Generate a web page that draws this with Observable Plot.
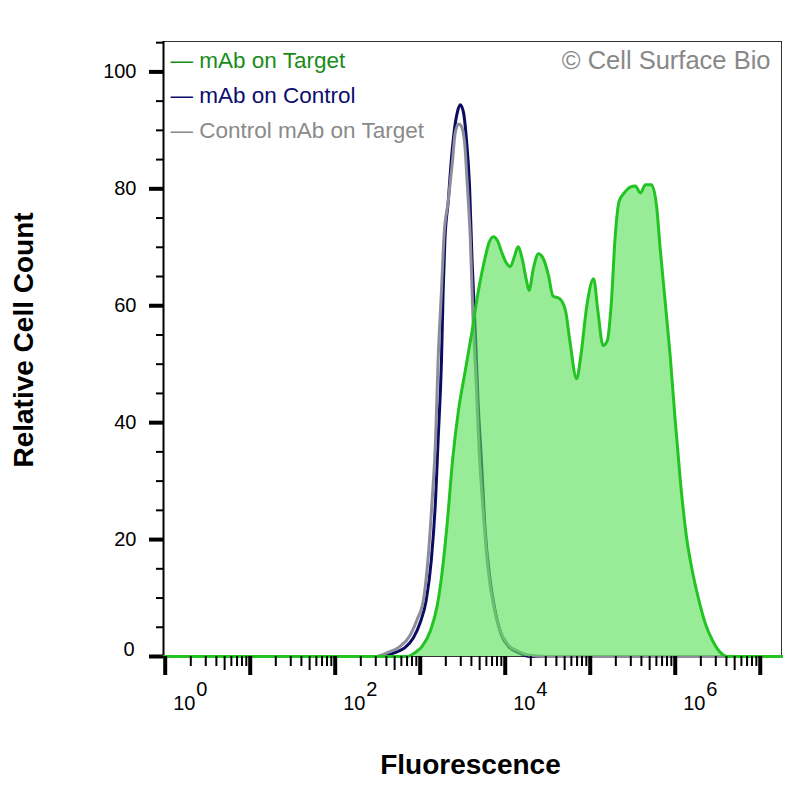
<!DOCTYPE html>
<html>
<head>
<meta charset="utf-8">
<script src="https://cdn.jsdelivr.net/npm/d3@7"></script>
<script src="https://cdn.jsdelivr.net/npm/@observablehq/plot@0.6"></script>
<style>
  html, body { margin: 0; padding: 0; background: #fff; }
</style>
</head>
<body>
<div id="chart"></div>
<script>
// ---- Data (log10 fluorescence, relative cell count) ----
const targetLog = [-0.02, 2.85, 2.94, 3.02, 3.12, 3.20, 3.26, 3.32, 3.38, 3.45, 3.53, 3.61, 3.68, 3.76, 3.81, 3.86, 3.91, 3.96, 4.01, 4.06, 4.11, 4.15, 4.20, 4.25, 4.28, 4.33, 4.39, 4.45, 4.51, 4.56, 4.64, 4.71, 4.76, 4.84, 4.89, 4.96, 5.04, 5.09, 5.15, 5.20, 5.25, 5.29, 5.34, 5.40, 5.47, 5.53, 5.59, 5.65, 5.72, 5.78, 5.82, 5.88, 5.94, 6.00, 6.06, 6.13, 6.20, 6.27, 6.35, 6.44, 6.53, 6.61, 7.25];
const targetCount = [0, 0, 0.7, 1.7, 4.4, 8.7, 14.7, 23.2, 33.5, 42.1, 48.9, 55.7, 62.2, 68.0, 70.8, 71.8, 71.1, 69.1, 67.4, 66.7, 68.5, 70.1, 68.0, 64.3, 62.6, 66.3, 68.9, 68.0, 65.1, 61.7, 61.2, 59.1, 54.0, 47.5, 51.5, 60.0, 64.6, 59.1, 53.2, 54.0, 60.9, 71.1, 77.9, 79.3, 80.3, 80.5, 79.3, 80.7, 80.7, 77.1, 70.3, 60.9, 51.5, 40.3, 30.1, 20.7, 14.7, 10.1, 5.8, 2.7, 0.7, 0, 0];

const controlLog = [-0.02, 2.53, 2.71, 2.82, 2.92, 3.00, 3.07, 3.13, 3.18, 3.21, 3.25, 3.27, 3.29, 3.33, 3.36, 3.40, 3.44, 3.47, 3.51, 3.54, 3.58, 3.61, 3.65, 3.68, 3.72, 3.76, 3.82, 3.88, 3.95, 4.04, 4.15, 4.29, 7.25];
const controlCount = [0, 0, 0.7, 1.5, 3.2, 5.8, 9.6, 16.4, 26.7, 36.9, 50.6, 62.6, 71.1, 77.9, 83.9, 89.9, 93.3, 94.4, 93.0, 89.1, 80.5, 67.7, 54.9, 43.8, 33.5, 22.4, 13.3, 7.9, 3.9, 1.7, 0.7, 0, 0];

const isotypeLog = [-0.02, 2.47, 2.62, 2.76, 2.88, 2.96, 3.04, 3.09, 3.14, 3.18, 3.21, 3.25, 3.28, 3.33, 3.38, 3.41, 3.45, 3.48, 3.52, 3.55, 3.59, 3.62, 3.66, 3.69, 3.74, 3.80, 3.87, 3.94, 4.04, 4.15, 4.29, 4.47, 7.25];
const isotypeCount = [0, 0, 0.7, 1.7, 3.6, 6.2, 9.9, 16.4, 26.7, 36.9, 50.6, 62.6, 72.0, 77.9, 84.8, 89.4, 91.1, 90.8, 88.2, 81.7, 71.1, 58.3, 46.3, 36.1, 25.0, 14.7, 8.2, 4.4, 1.9, 0.9, 0.2, 0, 0];

// ---- Axis ticks & labels ----
const xDecades = [0, 1, 2, 3, 4, 5, 6, 7];
const xMinorMult = [2, 3, 4, 6, 7, 8, 9];
const xMidMult = [5];
const xLabelExps = [0, 2, 4, 6];
const yMajor = [0, 20, 40, 60, 80, 100];
const yMinor = [5, 10, 15, 25, 30, 35, 45, 50, 55, 65, 70, 75, 85, 90, 95, 105];
const yLabels = [20, 40, 60, 80, 100];

const legendLabels = ["mAb on Target", "mAb on Control", "Control mAb on Target"];
const legendColors = ["#1a8c1a", "#0d0d6e", "#8a8a8a"];
const copyright = "© Cell Surface Bio";
const xTitle = "Fluorescence";
const yTitle = "Relative Cell Count";

// ---- Build tables ----
const toRows = (logs, counts) => logs.map((d, i) => ({x: Math.pow(10, d), v: counts[i]}));
const target = toRows(targetLog, targetCount);
const control = toRows(controlLog, controlCount);
const isotype = toRows(isotypeLog, isotypeCount);

const majorX = xDecades.map(d => Math.pow(10, d));
const minorX = [];
const midX = [];
xDecades.slice(0, 7).forEach(d => {
  xMinorMult.forEach(m => minorX.push(m * Math.pow(10, d)));
  xMidMult.forEach(m => midX.push(m * Math.pow(10, d)));
});

const xDomain = [Math.pow(10, -0.02), Math.pow(10, 7.25)];
const blank = () => "";

const chart = Plot.plot({
  width: 800,
  height: 800,
  marginLeft: 163,
  marginRight: 19,
  marginTop: 41,
  marginBottom: 144,
  style: {fontFamily: "'Liberation Sans', Arial, Helvetica, sans-serif", background: "#fff", color: "#000"},
  x: {type: "log", domain: xDomain},
  y: {domain: [0, 105.2]},
  marks: [
    // frame and axis lines
    Plot.frame({stroke: "#333", strokeWidth: 1}),
    Plot.ruleX([xDomain[0]], {stroke: "#000", strokeWidth: 2}),
    // control curves
    Plot.lineY(control, {x: "x", y: "v", stroke: "#0b0b62", strokeWidth: 3, curve: "monotone-x"}),
    Plot.lineY(isotype, {x: "x", y: "v", stroke: "#8d8d9c", strokeWidth: 3, curve: "monotone-x"}),
    // target curve
    Plot.areaY(target, {x: "x", y: "v", fill: "#53df53", fillOpacity: 0.6, curve: "monotone-x"}),
    Plot.lineY(target, {x: "x", y: "v", stroke: "#22c322", strokeWidth: 3, curve: "monotone-x"}),
    // y ticks
    Plot.axisY(yMajor, {anchor: "left", tickSize: 14, strokeWidth: 4, tickFormat: blank, label: null}),
    Plot.axisY(yMinor, {anchor: "left", tickSize: 7, strokeWidth: 2, tickFormat: blank, label: null}),
    Plot.text(yLabels, {y: d => d, text: d => String(d), frameAnchor: "left", textAnchor: "end", lineAnchor: "middle", dx: -27, fontSize: 20, fill: "#000"}),
    Plot.text([0], {y: d => d, text: d => String(d), frameAnchor: "left", textAnchor: "end", lineAnchor: "middle", dx: -29, dy: -7, fontSize: 20, fill: "#000"}),
    // x ticks
    Plot.axisX(majorX, {anchor: "bottom", tickSize: 19, strokeWidth: 4, tickFormat: blank, label: null}),
    Plot.axisX(midX, {anchor: "bottom", tickSize: 14, strokeWidth: 2, tickFormat: blank, label: null}),
    Plot.axisX(minorX, {anchor: "bottom", tickSize: 10, strokeWidth: 2, tickFormat: blank, label: null}),
    Plot.text(xLabelExps, {x: e => Math.pow(10, e), text: () => "10", frameAnchor: "bottom", textAnchor: "start", lineAnchor: "middle", dx: 8, dy: 47, fontSize: 20, fill: "#000"}),
    Plot.text(xLabelExps, {x: e => Math.pow(10, e), text: e => String(e), frameAnchor: "bottom", textAnchor: "start", lineAnchor: "middle", dx: 31, dy: 33, fontSize: 20, fill: "#000"}),
    // axis titles
    Plot.text([xTitle], {frameAnchor: "bottom", textAnchor: "middle", lineAnchor: "middle", dx: -2, dy: 109, fontSize: 28, fontWeight: "bold", fill: "#000"}),
    Plot.text([yTitle], {frameAnchor: "left", textAnchor: "middle", lineAnchor: "middle", dx: -139, dy: -9, rotate: -90, fontSize: 28, fontWeight: "bold", fill: "#000"}),
    // legend
    ...legendLabels.map((lab, i) => Plot.text([lab], {
      frameAnchor: "top-left", textAnchor: "start", lineAnchor: "middle", dx: 7, dy: 19 + i * 35,
      text: d => "— " + d, fill: legendColors[i], fontSize: 22.5
    })),
    // copyright
    Plot.text([copyright], {frameAnchor: "top-right", textAnchor: "end", lineAnchor: "middle", dx: -11, dy: 19, fontSize: 25.5, fill: "#888"})
  ]
});

document.getElementById("chart").appendChild(chart);
</script>
</body>
</html>
